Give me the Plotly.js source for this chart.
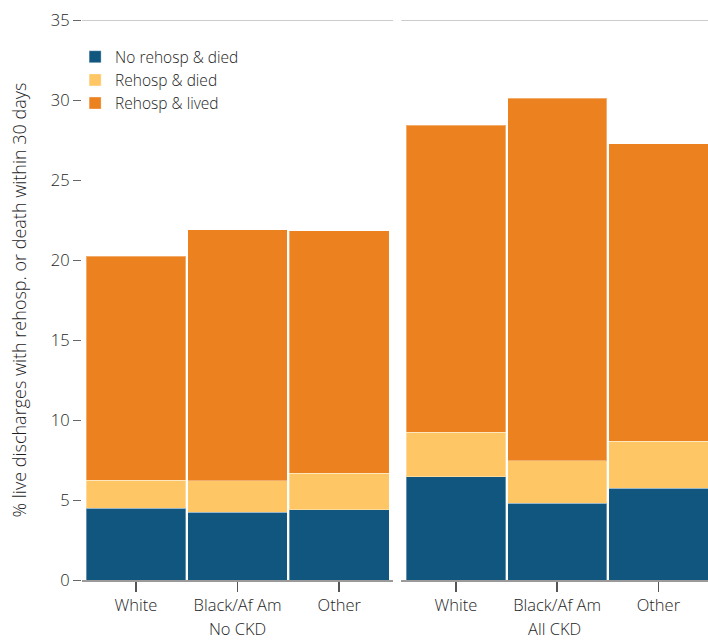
<!DOCTYPE html>
<html>
<head>
<meta charset="utf-8">
<script src="https://cdn.plot.ly/plotly-3.0.1.min.js"></script>
<style>html,body{margin:0;padding:0;background:#fff;}#chart{width:708px;height:641px;}</style>
</head>
<body>
<div id="chart"></div>
<script>
var categories = ["White", "Black/Af Am", "Other"];
var groups = ["No CKD", "All CKD"];
var seriesNames = ["No rehosp & died", "Rehosp & died", "Rehosp & lived"];
var noCkdNoRehospDied = [4.5, 4.25, 4.4];
var noCkdRehospDied = [1.75, 1.95, 2.27];
var noCkdRehospLived = [14.0, 15.7, 15.15];
var allCkdNoRehospDied = [6.46, 4.8, 5.75];
var allCkdRehospDied = [2.77, 2.65, 2.92];
var allCkdRehospLived = [19.2, 22.65, 18.6];
var colors = ["#10567f", "#fec665", "#ec8120"];

var font = "Open Sans, Noto Sans, sans-serif";
var txt = "#1e1e1e";
var W = 300;
var panels = [
  [noCkdNoRehospDied, noCkdRehospDied, noCkdRehospLived],
  [allCkdNoRehospDied, allCkdRehospDied, allCkdRehospLived]
];
var traces = [];
panels.forEach(function (vals, p) {
  vals.forEach(function (v, s) {
    traces.push({
      type: "bar",
      x: categories,
      y: v,
      name: seriesNames[s],
      legendgroup: seriesNames[s],
      showlegend: p === 0,
      xaxis: p === 0 ? "x" : "x2",
      yaxis: "y",
      marker: {color: colors[s], line: {color: "rgba(255,255,255,0.35)", width: 1}},
      hoverinfo: "y"
    });
  });
});

var xCommon = {
  type: "category",
  showline: true, linecolor: "#9a9a9a", linewidth: 1.5,
  ticks: "outside", ticklen: 10, tickcolor: "#555", tickwidth: 1.5,
  tickfont: {family: font, size: 16.5, color: txt, weight: W},
  showgrid: false, zeroline: false,
  title: {font: {family: font, size: 16.5, color: txt, weight: W}, standoff: 8}
};
var layout = {
  width: 708, height: 641,
  margin: {l: 82, r: 0, t: 20, b: 61},
  paper_bgcolor: "#fff", plot_bgcolor: "#fff",
  barmode: "stack", bargap: 0.02,
  showlegend: true,
  legend: {x: -0.011, y: 0.964, xanchor: "left", yanchor: "top", traceorder: "normal",
           font: {family: font, size: 15.5, color: txt, weight: W}, bgcolor: "rgba(0,0,0,0)",
           tracegroupgap: 0, itemwidth: 30},
  xaxis: Object.assign({}, xCommon, {domain: [0, 0.497], range: [-0.53, 2.53],
    title: Object.assign({}, xCommon.title, {text: groups[0]})}),
  xaxis2: Object.assign({}, xCommon, {domain: [0.51, 1], range: [-0.54, 2.49], anchor: "y",
    title: Object.assign({}, xCommon.title, {text: groups[1]})}),
  yaxis: {
    range: [0, 35], tickvals: [0, 5, 10, 15, 20, 25, 30, 35],
    ticks: "outside", ticklen: 8, tickcolor: "#666", tickwidth: 1,
    showline: false, showgrid: false, zeroline: false,
    tickfont: {family: font, size: 16.5, color: txt, weight: W},
    title: {text: "% live discharges with rehosp. or death within 30 days",
            font: {family: font, size: 18, color: txt, weight: W}, standoff: 19}
  },
  shapes: [
    {type: "line", xref: "x domain", yref: "y", x0: 0, x1: 1, y0: 35, y1: 35, line: {color: "#9a9a9a", width: 1.2}},
    {type: "line", xref: "x2 domain", yref: "y", x0: 0, x1: 1, y0: 35, y1: 35, line: {color: "#9a9a9a", width: 1.2}}
  ]
};
Plotly.newPlot("chart", traces, layout, {displayModeBar: false, staticPlot: true});
</script>
</body>
</html>
